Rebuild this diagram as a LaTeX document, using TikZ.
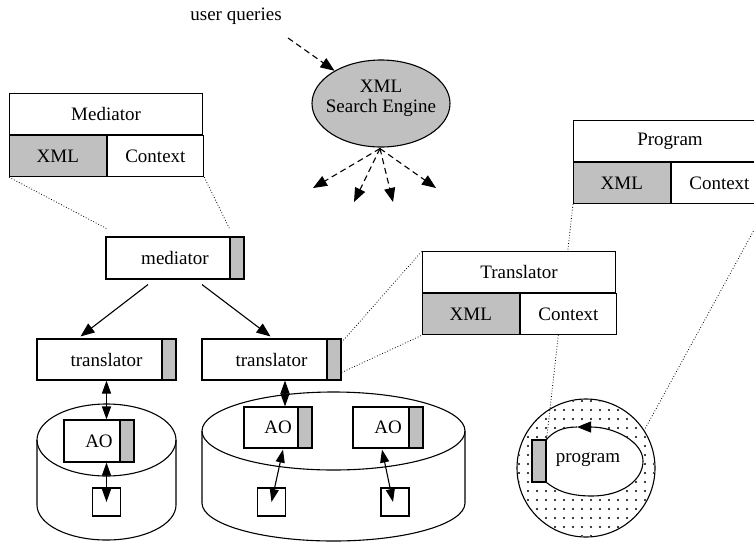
\documentclass[tikz,border=0pt]{standalone}
\usepackage{fontspec}
\setmainfont{Liberation Serif}
\usetikzlibrary{arrows.meta,calc,shapes.geometric}
\definecolor{boxgray}{RGB}{192,192,192}
\begin{document}
\begin{tikzpicture}[x=1pt,y=-1pt,
  font=\fontsize{19}{20}\selectfont,
  line width=1.1pt,
  box/.style={draw, fill=white, inner sep=0pt, minimum height=41pt},
  bar/.style={draw, fill=boxgray, inner sep=0pt, minimum width=14pt, minimum height=41pt},
  cell/.style={draw, inner sep=0pt, minimum height=41pt, minimum width=96.5pt},
  sq/.style={draw, fill=white, inner sep=0pt, minimum width=28pt, minimum height=28pt},
  arr/.style={-{Triangle[length=14pt,width=11pt]}},
  darr/.style={{Triangle[length=13pt,width=9pt]}-{Triangle[length=13pt,width=9pt]}},
  qarr/.style={-{Triangle[length=14pt,width=11pt]}, dash pattern=on 6pt off 4pt},
  link/.style={line width=0.8pt, dotted}
]
\useasboundingbox (0,0) rectangle (754,541);

% search engine
\node (uq) at (236,16) {user queries};
\node[ellipse, draw, fill=boxgray, minimum width=138pt, minimum height=87pt, inner sep=0pt,
  label={[align=center, yshift=5pt]center:XML\\Search Engine}] (xse) at (381,103.5) {};
\coordinate (qs) at (288,38);
\draw[qarr] (qs) -- (xse);
\coordinate (o1) at (313,188);
\coordinate (o2) at (354,202);
\coordinate (o3) at (393,202);
\coordinate (o4) at (436,188);
\foreach \o in {o1,o2,o3,o4}
  \draw[qarr] ($(xse.south)+(-1,1)$) -- (\o);

% Mediator description box
\node[box, minimum width=193pt, anchor=north west] (MedT) at (9,93) {Mediator};
\node[cell, fill=boxgray, anchor=north west] (MedX) at (MedT.south west) {XML};
\node[cell, fill=white, anchor=north west] (MedC) at (MedX.north east) {Context};

% mediator
\node[box, minimum width=138pt, minimum height=42pt] (med) at (175,258) {mediator};
\node[bar, minimum height=42pt, anchor=north east] (medbar) at (med.north east) {};
\draw[link] (MedX.south west) -- ($(med.north west)+(1,-8)$);
\draw[link] (MedC.south east) -- ($(medbar.north west)+(0,-8)$);

% translators
\node[box, minimum width=139pt] (t1) at (106.5,359.5) {translator};
\node[bar, anchor=north east] (t1bar) at (t1.north east) {};
\node[box, minimum width=139pt] (t2) at (271.5,359.5) {translator};
\node[bar, anchor=north east] (t2bar) at (t2.north east) {};
\draw[arr] ($(med.south)+(-27,5)$) -- ($(t1.north)+(-26,-2)$);
\draw[arr] ($(med.south)+(27,5)$) -- ($(t2.north)+(-1,-2)$);

% cylinders
\draw (37,440) -- (37,505) arc[start angle=180, end angle=360, x radius=69.5pt, y radius=35pt] -- (176,440);
\draw (106.5,440) ellipse [x radius=69.5pt, y radius=36pt];
\draw (202,431) -- (202,503) arc[start angle=180, end angle=360, x radius=131.5pt, y radius=38pt] -- (465,431);
\draw (333.5,431) ellipse [x radius=131.5pt, y radius=39pt];

% AOs
\node[box, minimum width=70pt, minimum height=42pt] (ao1) at (99,441) {AO};
\node[bar, minimum height=42pt, anchor=north east] (ao1bar) at (ao1.north east) {};
\node[box, minimum width=68pt] (ao2) at (278,427.5) {AO};
\node[bar, anchor=north east] (ao2bar) at (ao2.north east) {};
\node[box, minimum width=70pt] (ao3) at (388,427.5) {AO};
\node[bar, anchor=north east] (ao3bar) at (ao3.north east) {};

\node[sq] (sq1) at (106.5,502) {};
\node[sq] (sq2) at (271.5,502) {};
\node[sq] (sq3) at (395,502) {};

\draw[darr] (t1.south) -- (t1.south |- ao1.north);
\draw[darr] (sq1 |- ao1.south) -- (sq1.center);
\draw[darr] ($(t2.south)+(13.5,0)$) -- ($(t2.south |- ao2.north)+(13.5,0)$);
\draw[darr] ($(ao2.south)+(5,1)$) -- (sq2.center);
\draw[darr] ($(ao3.south)+(-6,1)$) -- ($(sq3.center)+(-2,0)$);

% program circle
\node[circle, draw, minimum size=138pt, inner sep=0pt] (circ) at (586,468) {};
\begin{scope}
  \clip (circ.center) circle (68pt);
  \foreach \i in {0,...,16}
    \foreach \j in {0,...,16}
      \fill ({519+9*\i},{401+9*\j}) circle (1.1pt);
\end{scope}
\node[bar, minimum height=42pt] (pbar) at (539,461) {};
\fill[white] (pbar.north east) .. controls (556,430) and (566,427) .. (582,427)
  .. controls (625,427) and (643,445) .. (643,461)
  .. controls (643,480) and (622,496) .. (592,496)
  .. controls (568,496) and (556,490) .. (pbar.south east) -- cycle;
\draw[arr] (pbar.south east) .. controls (556,490) and (568,496) .. (592,496)
  .. controls (622,496) and (643,480) .. (643,461)
  .. controls (643,442) and (615,427) .. (577,427);
\draw (577,427) .. controls (562,427) and (553,432) .. (pbar.north east);
\node[draw, fill=boxgray, inner sep=0pt, minimum width=14pt, minimum height=42pt] at (pbar) {};
\node (ptext) at (588,460) {program};

% Program description box
\node[box, minimum width=193pt, anchor=north west] (PrT) at (573,120) {Program};
\node[cell, fill=boxgray, anchor=north west] (PrX) at (PrT.south west) {XML};
\node[cell, fill=white, anchor=north west] (PrC) at (PrX.north east) {Context};
\draw[link] (PrX.south west) -- (pbar.north east);
\draw[link] (PrC.south east) -- (circ.33);

% Translator description box
\node[box, minimum width=193pt, anchor=north west] (TrT) at (422,251) {Translator};
\node[cell, fill=boxgray, anchor=north west] (TrX) at (TrT.south west) {XML};
\node[cell, fill=white, anchor=north west] (TrC) at (TrX.north east) {Context};
\draw[link] ($(t2bar.north east)+(0,4)$) -- (TrT.north west);
\draw[link] ($(t2bar.south east)+(0,-8)$) -- (TrX.south west);
\end{tikzpicture}
\end{document}
